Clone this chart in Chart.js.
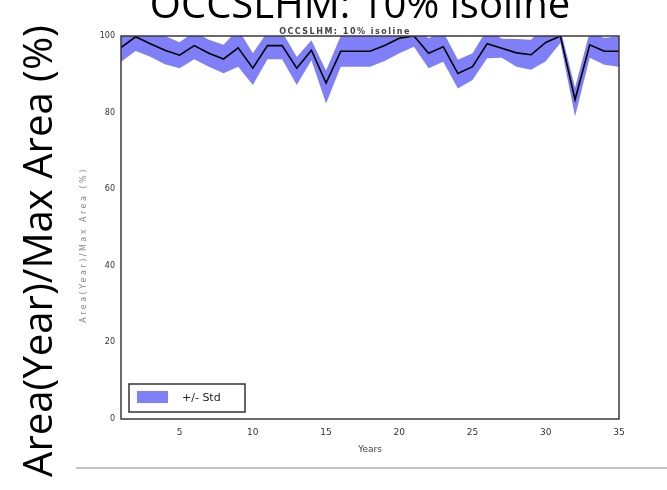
<!DOCTYPE html>
<html>
<head>
<meta charset="utf-8">
<script src="https://cdn.jsdelivr.net/npm/chart.js@4.4.1/dist/chart.umd.min.js"></script>
<style>
  html, body { margin: 0; padding: 0; background: #fff; }
  #wrap { width: 667px; height: 490px; }
</style>
</head>
<body>
<div id="wrap"><canvas id="areaChart" width="667" height="490"></canvas></div>
<script>
// data
const years = [1,2,3,4,5,6,7,8,9,10,11,12,13,14,15,16,17,18,19,20,21,22,23,24,25,26,27,28,29,30,31,32,33,34,35];
const meanArea = [97,99.8,98,96.3,95,97.5,95.5,94,96.9,91.6,97.5,97.5,91.6,96.3,87.7,96,96,96,97.5,99.4,100,95.5,97.2,90.2,92,98,96.8,95.6,95.1,98.3,100,83.4,97.7,96,96];
const upperStd = [100.5,103.5,101.4,100,98.4,101.1,99,97.7,101.8,95.5,101.1,101.1,94.5,98.9,91,100,100,100,101.5,103,102.4,99.4,101.1,93.8,95.5,101.8,99.3,99.2,99,103.2,101.8,86.5,101.1,99.5,100];
const lowerStd = [93.3,96.1,94.6,92.6,91.6,93.9,92,90.3,92,87.2,93.9,93.9,87.2,93.7,82.4,92,92,92,93.5,95.5,97.2,91.6,93.3,86.3,88.5,94.2,94.3,92,91.2,93.4,98.2,79,94.3,92.5,92];
const xTicks = [5,10,15,20,25,30,35];
const yTicks = [0,20,40,60,80,100];

const slideTitle = "OCCSLHM: 10% isoline";
const slideYLabel = "Area(Year)/Max Area (%)";
const plotTitle = "OCCSLHM: 10% isoline";
const plotYLabel = "Area(Year)/Max Area (%)";

const pts = arr => years.map((yr, i) => ({ x: yr, y: arr[i] }));

// fit a string to a given width by picking the font size
function fitFont(ctx, text, family, width) {
  ctx.font = "100px " + family;
  const w = ctx.measureText(text).width;
  return Math.round(100 * width / w * 10) / 10;
}

const slidePlugin = {
  id: "slideText",
  afterDraw(chart) {
    const ctx = chart.ctx;
    const area = chart.chartArea;
    ctx.save();

    // plot frame
    ctx.strokeStyle = "#3a3a3a";
    ctx.lineWidth = 1.5;
    ctx.strokeRect(area.left, area.top, area.right - area.left, area.bottom - area.top);

    // legend box inside the plot
    const band = chart.data.datasets[1];
    ctx.fillStyle = "#fff";
    ctx.fillRect(129, 384, 116, 28);
    ctx.strokeStyle = "#333";
    ctx.lineWidth = 1.5;
    ctx.strokeRect(129, 384, 116, 28);
    ctx.fillStyle = band.backgroundColor;
    ctx.fillRect(137, 391, 31, 12);
    ctx.fillStyle = "#222";
    ctx.font = "11px 'DejaVu Sans'";
    ctx.textAlign = "left";
    ctx.textBaseline = "middle";
    ctx.fillText(band.label, 182, 398);

    // small plot title and small y label
    ctx.fillStyle = "#444";
    ctx.font = "bold 8px 'DejaVu Sans'";
    ctx.textAlign = "center";
    ctx.textBaseline = "middle";
    ctx.letterSpacing = "1.5px";
    ctx.fillText(plotTitle, 345, 32);
    ctx.save();
    ctx.translate(84, 245);
    ctx.rotate(-Math.PI / 2);
    ctx.fillStyle = "#888";
    ctx.font = "8px 'DejaVu Sans'";
    ctx.letterSpacing = "2.5px";
    ctx.fillText(plotYLabel, 0, 0);
    ctx.restore();
    ctx.letterSpacing = "0px";

    // big slide title, top half cut off by the frame edge
    ctx.fillStyle = "#000";
    const ts = fitFont(ctx, slideTitle, "'Open Sans'", 420);
    ctx.font = ts + "px 'Open Sans'";
    ctx.textAlign = "center";
    ctx.textBaseline = "alphabetic";
    ctx.fillText(slideTitle, 360, 18);

    // big slide y label
    const ys = fitFont(ctx, slideYLabel, "'Open Sans'", 452);
    ctx.save();
    ctx.translate(41, 251);
    ctx.rotate(-Math.PI / 2);
    ctx.font = ys + "px 'Open Sans'";
    ctx.textBaseline = "middle";
    ctx.fillText(slideYLabel, 0, 0);
    ctx.restore();

    // slide rule at the bottom
    ctx.strokeStyle = "#c4c4c4";
    ctx.lineWidth = 2;
    ctx.beginPath();
    ctx.moveTo(76, 468);
    ctx.lineTo(667, 468);
    ctx.stroke();

    ctx.restore();
  }
};

new Chart(document.getElementById("areaChart"), {
  type: "line",
  data: {
    datasets: [{
      label: "Mean",
      data: pts(meanArea),
      borderColor: "#000",
      borderWidth: 1.6,
      pointRadius: 0,
      fill: false,
      tension: 0,
      order: 0
    }, {
      label: "+/- Std",
      data: pts(upperStd),
      borderWidth: 0,
      borderColor: "rgba(0,0,0,0)",
      backgroundColor: "#7f7ff7",
      pointRadius: 0,
      fill: "+1",
      tension: 0,
      order: 1
    }, {
      label: "lower",
      data: pts(lowerStd),
      borderWidth: 0,
      borderColor: "rgba(0,0,0,0)",
      pointRadius: 0,
      fill: false,
      tension: 0,
      order: 2
    }]
  },
  options: {
    responsive: false,
    animation: false,
    devicePixelRatio: 1,
    layout: { padding: { left: 0, top: 36, right: 48, bottom: 0 } },
    plugins: {
      legend: { display: false },
      tooltip: { enabled: false }
    },
    scales: {
      x: {
        type: "linear",
        min: 1,
        max: 35,
        afterBuildTicks: s => { s.ticks = xTicks.map(v => ({ value: v })); },
        afterFit: s => { s.height = 71; },
        grid: { display: false, drawTicks: false },
        border: { display: false },
        ticks: { color: "#333", font: { size: 9, family: "'DejaVu Sans'" }, padding: 8, maxRotation: 0 },
        title: { display: true, text: "Years", color: "#444", font: { size: 9, family: "'DejaVu Sans'" }, padding: { top: 0, bottom: 35 } }
      },
      y: {
        min: 0,
        max: 100,
        afterBuildTicks: s => { s.ticks = yTicks.map(v => ({ value: v })); },
        afterFit: s => { s.width = 121; },
        grid: { display: false, drawTicks: false },
        border: { display: false },
        ticks: { color: "#333", font: { size: 8, family: "'DejaVu Sans'" }, padding: 6 }
      }
    }
  },
  plugins: [slidePlugin]
});
</script>
</body>
</html>
